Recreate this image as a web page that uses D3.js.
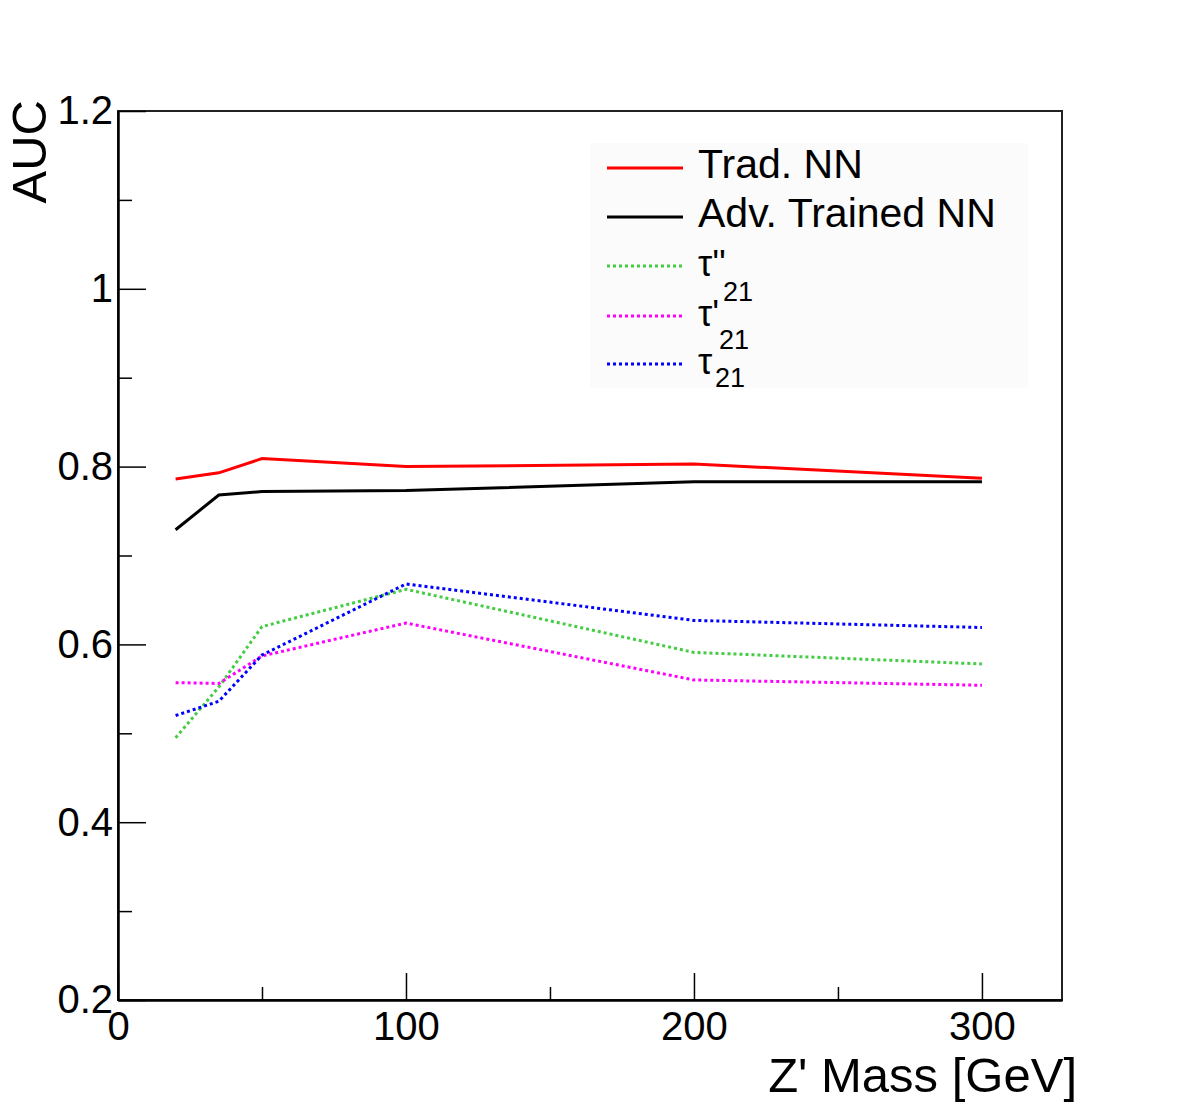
<!DOCTYPE html>
<html>
<head>
<meta charset="utf-8">
<script src="https://cdn.jsdelivr.net/npm/d3@7"></script>
<style>
  body { margin: 0; background: #fff; }
  svg text { font-family: "Liberation Sans", Arial, sans-serif; fill: #000; }
</style>
</head>
<body>
<div id="chart"></div>
<script>

// Z' mass points [GeV]
var massPoints = [20, 35, 50, 100, 200, 300];

// AUC per mass point
var tradNN      = [0.786, 0.793, 0.809, 0.800, 0.803, 0.787];
var advNN       = [0.729, 0.768, 0.772, 0.773, 0.783, 0.783];
var tauDblPrime = [0.495, 0.552, 0.620, 0.662, 0.591, 0.578];
var tauPrime    = [0.557, 0.556, 0.587, 0.624, 0.560, 0.554];
var tau21       = [0.520, 0.536, 0.588, 0.668, 0.627, 0.619];

var seriesNames  = ["Trad. NN", "Adv. Trained NN", "τ''", "τ'", "τ"];
var seriesColors = ["#ff0000", "#000000", "#44cc44", "#ff00ff", "#0000ff"];
var seriesDotted = [false, false, true, true, true];

var xMajorTicks = [0, 100, 200, 300];
var xMinorTicks = [50, 150, 250];
var yMajorTicks = [0.2, 0.4, 0.6, 0.8, 1.0, 1.2];
var yMinorTicks = [0.3, 0.5, 0.7, 0.9, 1.1];

var series = [tradNN, advNN, tauDblPrime, tauPrime, tau21];

var width = 1182, height = 1113;
var frame = { left: 118, right: 1062, top: 111, bottom: 1000 };

var svg = d3.select("#chart").append("svg")
  .attr("width", width)
  .attr("height", height);

var x = d3.scaleLinear().domain([0, 327.8]).range([frame.left, frame.right]);
var y = d3.scaleLinear().domain([0.2, 1.2]).range([frame.bottom, frame.top]);

// frame
svg.append("rect")
  .attr("x", frame.left).attr("y", frame.top)
  .attr("width", frame.right - frame.left)
  .attr("height", frame.bottom - frame.top)
  .attr("fill", "none")
  .attr("stroke", "#222")
  .attr("stroke-width", 2);

// axes, ROOT style: ticks inside the frame
var xAxis = d3.axisBottom(x).tickValues(xMajorTicks).tickSize(-27).tickSizeOuter(0).tickPadding(12)
  .tickFormat(d3.format("d"));
var xMinor = d3.axisBottom(x).tickValues(xMinorTicks).tickSize(-13).tickSizeOuter(0).tickFormat("");
var yAxis = d3.axisLeft(y).tickValues(yMajorTicks).tickSize(-28).tickSizeOuter(0).tickPadding(5)
  .tickFormat(function(d) { return d3.format("~g")(d); });
var yMinor = d3.axisLeft(y).tickValues(yMinorTicks).tickSize(-14).tickSizeOuter(0).tickFormat("");

function styleAxis(g) {
  g.selectAll("path").attr("stroke", "#000").attr("stroke-width", 2);
  g.selectAll("line").attr("stroke", "#000").attr("stroke-width", 1.5);
  g.selectAll("text").attr("font-size", 40).attr("fill", "#000")
    .attr("font-family", "Liberation Sans, Arial, sans-serif");
}

svg.append("g").attr("transform", "translate(0," + frame.bottom + ")").call(xMinor).call(styleAxis);
svg.append("g").attr("transform", "translate(0," + frame.bottom + ")").call(xAxis).call(styleAxis);
svg.append("g").attr("transform", "translate(" + frame.left + ",0)").call(yMinor).call(styleAxis);
svg.append("g").attr("transform", "translate(" + frame.left + ",0)").call(yAxis).call(styleAxis);

// axis titles
svg.append("text")
  .attr("x", 1077).attr("y", 1092)
  .attr("text-anchor", "end")
  .attr("font-size", 49)
  .text("Z' Mass [GeV]");

svg.append("text")
  .attr("transform", "translate(46,100) rotate(-90)")
  .attr("text-anchor", "end")
  .attr("font-size", 49)
  .text("AUC");

// curves
var line = d3.line()
  .x(function(d, i) { return x(massPoints[i]); })
  .y(function(d) { return y(d); });

series.forEach(function(vals, i) {
  svg.append("path")
    .datum(vals)
    .attr("d", line)
    .attr("fill", "none")
    .attr("stroke", seriesColors[i])
    .attr("stroke-width", 3)
    .attr("stroke-dasharray", seriesDotted[i] ? "3,3" : null);
});

// legend
var legend = svg.append("g");
legend.append("rect")
  .attr("x", 590).attr("y", 143)
  .attr("width", 438).attr("height", 245)
  .attr("fill", "#fbfbfb");

var rowY = [168, 217, 266, 316, 364];
seriesNames.forEach(function(name, i) {
  legend.append("line")
    .attr("x1", 607).attr("x2", 683)
    .attr("y1", rowY[i]).attr("y2", rowY[i])
    .attr("stroke", seriesColors[i])
    .attr("stroke-width", 3)
    .attr("stroke-dasharray", seriesDotted[i] ? "3,3" : null);
  var t = legend.append("text")
    .attr("x", 698)
    .text(name);
  if (i < 2) {
    t.attr("y", rowY[i] + 10).attr("font-size", 41);
  } else {
    t.attr("y", rowY[i] + 10).attr("font-size", 36)
      .attr("font-family", "DejaVu Serif, serif");
  }
});

// sub/superscripts as ROOT rendered them
var scripts = [
  { x: 723, y: 301, s: "21" },
  { x: 719, y: 349, s: "21" },
  { x: 715, y: 387, s: "21" }
];
scripts.forEach(function(d) {
  legend.append("text").attr("x", d.x).attr("y", d.y).attr("font-size", 27).text(d.s);
});

</script>
</body>
</html>
